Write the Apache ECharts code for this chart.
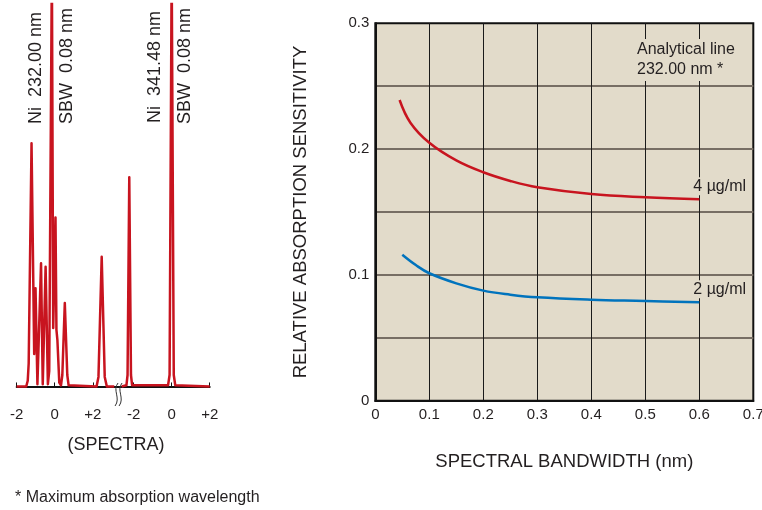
<!DOCTYPE html>
<html><head><meta charset="utf-8">
<script src="https://cdn.jsdelivr.net/npm/echarts@6/dist/echarts.min.js"></script>
<style>html,body{margin:0;padding:0;background:#fff;}#c{width:762px;height:510px;}</style>
</head><body><div id="c"></div>
<script>
// ---------- DATA ----------
// Left panel: spectra (x = offset from line centre, nm; y = relative intensity)
const spectrumTickValues = [-2, 0, 2];
const spectrumTickLabels = ['-2', '0', '+2'];
// Ni 232.00 nm region
const leftSpecX = [-2.00, -1.50, -1.42, -1.37, -1.22, -1.08, -1.01, -0.91, -0.72, -0.63, -0.48, -0.36, -0.29, -0.15, -0.08, 0.04, 0.09, 0.14, 0.24, 0.33, 0.40, 0.53, 0.66, 0.73, 2.20, 2.30, 2.47, 2.63, 2.74, 3.13];
const leftSpecY = [0, 0, 1.5, 6, 63.6, 8.5, 25.7, 0.6, 32.2, 0.6, 31.3, 0.6, 4, 110, 15.3, 44.2, 14.8, 12.2, 1.0, 0.3, 3, 21.8, 3, 0.3, 0, 2.5, 33.9, 2.5, 0, 0];
// Ni 341.48 nm region
const rightSpecX = [-2.63, -2.38, -2.32, -2.23, -2.14, -2.08, -0.19, -0.11, 0.00, 0.11, 0.19, 2.00];
const rightSpecY = [0, 0.3, 3, 54.7, 3, 0.3, 0.3, 3, 110, 3, 0.3, 0];
const spectrumLineLabels = ['Ni  232.00 nm', 'SBW  0.08 nm', 'Ni  341.48 nm', 'SBW  0.08 nm'];

// Right panel: relative absorption sensitivity vs spectral bandwidth
const conc4X = [0.045, 0.065, 0.1, 0.15, 0.2, 0.25, 0.3, 0.4, 0.5, 0.6];
const conc4Y = [0.239, 0.221, 0.205, 0.191, 0.1816, 0.1747, 0.1697, 0.1643, 0.1617, 0.1601];
const conc2X = [0.05, 0.075, 0.1, 0.15, 0.2, 0.25, 0.3, 0.4, 0.5, 0.6];
const conc2Y = [0.116, 0.1078, 0.1013, 0.0933, 0.0875, 0.0843, 0.0822, 0.0803, 0.0793, 0.0782];
const seriesNames = ['4 µg/ml', '2 µg/ml'];

// ---------- LAYOUT ----------
const SEG2_OFFSET = 6.15;  // horizontal shift of the second spectrum segment on the shared axis
const BREAK_AT = 3.33;     // where the axis break symbol sits
const FONT = '"Liberation Sans", Arial, Helvetica, sans-serif';
const TXT = '#231f20';
const RED = '#c8141f';
const BLUE = '#0073bd';

const chart = echarts.init(document.getElementById('c'), null, {renderer: 'canvas'});
const zip = (a, b) => a.map((v, i) => [v, b[i]]);
const tickPos = spectrumTickValues.concat(spectrumTickValues.map(v => +(v + SEG2_OFFSET).toFixed(4)));
const tickTxt = spectrumTickLabels.concat(spectrumTickLabels);

const option = {
  animation: false,
  grid: [
    {left: 16.7, top: 4, width: 193, height: 397, outerBoundsMode: 'none', containLabel: false},
    {left: 375.3, top: 23.3, width: 378, height: 377.4, show: true, outerBoundsMode: 'none', containLabel: false,
     backgroundColor: '#e2dbca', borderColor: '#111', borderWidth: 2}
  ],
  xAxis: [
    {gridIndex: 0, type: 'value', min: -2, max: 2 + SEG2_OFFSET,
     axisLine: {show: true, lineStyle: {color: '#111', width: 2}},
     axisTick: {show: true, inside: true, length: 4, lineStyle: {color: '#111', width: 1}, customValues: tickPos},
     axisLabel: {customValues: tickPos, margin: 6, color: TXT, fontSize: 15, fontFamily: FONT,
       formatter: v => { let k = 0, d = 1e9; tickPos.forEach((p, i) => { if (Math.abs(p - v) < d) { d = Math.abs(p - v); k = i; } }); return tickTxt[k]; }},
     splitLine: {show: false}},
    {gridIndex: 1, type: 'value', min: 0, max: 0.7, interval: 0.1,
     axisLine: {show: true, onZero: false, lineStyle: {color: '#111', width: 2}},
     axisTick: {show: false},
     axisLabel: {margin: 7, color: TXT, fontSize: 15, fontFamily: FONT},
     splitLine: {show: true, showMinLine: false, showMaxLine: false, lineStyle: {color: '#1a1a1a', width: 1}},
     name: 'SPECTRAL BANDWIDTH (nm)', nameLocation: 'middle', nameGap: 52,
     nameTextStyle: {color: TXT, fontSize: 18.5, fontFamily: FONT}}
  ],
  yAxis: [
    {gridIndex: 0, type: 'value', min: -3.8, max: 100, show: false},
    {gridIndex: 1, type: 'value', min: 0, max: 0.3, interval: 0.05,
     axisLine: {show: true, onZero: false, lineStyle: {color: '#111', width: 2}},
     axisTick: {show: false},
     axisLabel: {margin: 6, color: TXT, fontSize: 15, fontFamily: FONT,
       formatter: v => Math.abs(v * 10 - Math.round(v * 10)) < 1e-6 ? String(+v.toFixed(1)) : ''},
     splitLine: {show: true, showMinLine: false, showMaxLine: false, lineStyle: {color: '#776e64', width: 2}},
     name: 'RELATIVE ABSORPTION SENSITIVITY', nameLocation: 'middle', nameGap: 65,
     nameTextStyle: {color: TXT, fontSize: 18.5, fontFamily: FONT}}
  ],
  series: [
    {type: 'line', xAxisIndex: 0, yAxisIndex: 0, data: zip(leftSpecX, leftSpecY), showSymbol: false, clip: true,
     lineStyle: {color: RED, width: 2.5, join: 'round'}, silent: true, z: 3},
    {type: 'line', xAxisIndex: 0, yAxisIndex: 0, data: zip(rightSpecX.map(x => x + SEG2_OFFSET), rightSpecY), showSymbol: false, clip: true,
     lineStyle: {color: RED, width: 2.5, join: 'round'}, silent: true, z: 3},
    {type: 'line', name: seriesNames[0], xAxisIndex: 1, yAxisIndex: 1, data: zip(conc4X, conc4Y), showSymbol: false, smooth: 0.4,
     lineStyle: {color: RED, width: 2.5}, silent: true, z: 3},
    {type: 'line', name: seriesNames[1], xAxisIndex: 1, yAxisIndex: 1, data: zip(conc2X, conc2Y), showSymbol: false, smooth: 0.4,
     lineStyle: {color: BLUE, width: 2.5}, silent: true, z: 3}
  ]
};
chart.setOption(option);

// ---------- annotations ----------
const bx = chart.convertToPixel({xAxisIndex: 0}, BREAK_AT);
const axisY = chart.convertToPixel({yAxisIndex: 0}, -3.8);
const wave = x => ({type: 'bezierCurve', z: 21,
  shape: {x1: x + 2, y1: axisY - 18, cpx1: x - 4, cpy1: axisY - 11, cpx2: x + 5, cpy2: axisY - 3, x2: x - 1, y2: axisY + 5},
  style: {fill: 'none', stroke: '#333', lineWidth: 1}});
const rot = (t, x, y) => ({type: 'text', x, y, rotation: Math.PI / 2, z: 10,
  style: {text: t, x: 0, y: 0, align: 'center', verticalAlign: 'middle', fill: TXT, fontSize: 18, fontFamily: FONT}});
const txt = (t, x, y, extra) => ({type: 'text', x, y, z: 10,
  style: Object.assign({text: t, align: 'left', verticalAlign: 'middle', fill: TXT, fontSize: 16, fontFamily: FONT}, extra || {})});
const p4 = chart.convertToPixel({xAxisIndex: 1, yAxisIndex: 1}, [conc4X[conc4X.length - 1], conc4Y[conc4Y.length - 1]]);
const p2 = chart.convertToPixel({xAxisIndex: 1, yAxisIndex: 1}, [conc2X[conc2X.length - 1], conc2Y[conc2Y.length - 1]]);
const BG = {backgroundColor: '#e2dbca', padding: [1, 2, 1, 2]};

chart.setOption({graphic: [
  {type: 'rect', z: 20, shape: {x: bx - 3.5, y: axisY - 4, width: 7, height: 8}, style: {fill: '#fff'}},
  wave(bx - 2),
  wave(bx + 2),
  rot(spectrumLineLabels[0], 36, 68),
  rot(spectrumLineLabels[1], 67, 66),
  rot(spectrumLineLabels[2], 155, 67),
  rot(spectrumLineLabels[3], 185.5, 66),
  txt('(SPECTRA)', 116, 445, {align: 'center', fontSize: 18}),
  txt('* Maximum absorption wavelength', 15, 498),
  txt('Analytical line\n232.00 nm *', 635, 60, Object.assign({lineHeight: 20}, BG)),
  txt(seriesNames[0], p4[0] - 8, p4[1] - 13, BG),
  txt(seriesNames[1], p2[0] - 8, p2[1] - 13, BG)
]});
</script></body></html>
